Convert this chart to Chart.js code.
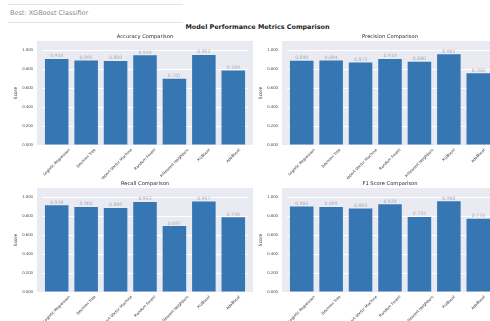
<!DOCTYPE html>
<html>
<head>
<meta charset="utf-8">
<script src="https://cdn.jsdelivr.net/npm/chart.js@4.4.1/dist/chart.umd.min.js"></script>
<style>
  html, body { margin: 0; padding: 0; background: #fff; }
  body { width: 490px; height: 321px; overflow: hidden; position: relative; font-family: "DejaVu Sans", sans-serif; }
  .box { position: absolute; left: 8px; top: 4px; width: 175px; height: 17px; border-top: 1px solid #e4e4e4; border-bottom: 1px solid #e4e4e4; }
  .box span { position: absolute; left: 2px; top: 4px; font-size: 6.5px; color: #8a8a8a; }
  .suptitle { position: absolute; left: 160px; width: 195px; top: 23px; text-align: center; font-size: 6.4px; font-weight: bold; color: #222; }
  canvas { position: absolute; }
</style>
</head>
<body>
<div class="box"><span>Best: XGBoost Classifier</span></div>
<div class="suptitle">Model Performance Metrics Comparison</div>
<canvas id="accChart" width="256" height="150" style="left:0px;top:29px"></canvas>
<canvas id="precChart" width="256" height="150" style="left:245px;top:29px"></canvas>
<canvas id="recChart" width="256" height="150" style="left:0px;top:176px"></canvas>
<canvas id="f1Chart" width="256" height="150" style="left:245px;top:176px"></canvas>
<script>
const models = ["Logistic Regression", "Decision Tree", "Support Vector Machine", "Random Forest", "K-Nearest Neighbors", "XGBoost", "AdaBoost"];
const accuracy = [0.910, 0.895, 0.889, 0.950, 0.701, 0.952, 0.789];
const precision = [0.890, 0.894, 0.873, 0.910, 0.880, 0.961, 0.760];
const recall = [0.918, 0.900, 0.889, 0.953, 0.697, 0.957, 0.790];
const f1 = [0.904, 0.899, 0.883, 0.928, 0.793, 0.960, 0.776];
const yTicks = [0, 0.2, 0.4, 0.6, 0.8, 1.0];

const barColor = "#3676b3";
const axesBg = "#eaeaf2";
const smallFont = { family: "DejaVu Sans", size: 3.8 };

// grey panel behind each subplot, a bit wider than the bar area
const panelBg = {
  id: "panelBg",
  beforeDraw(chart) {
    const { ctx, chartArea: a } = chart;
    ctx.save();
    ctx.fillStyle = axesBg;
    ctx.fillRect(a.left - 5, a.top, a.width + 10, a.height);
    ctx.restore();
  }
};

// subplot title + value above each bar + rotated model names
const decorations = {
  id: "decorations",
  afterDraw(chart) {
    const { ctx, chartArea: a } = chart;
    const xs = chart.scales.x;
    const meta = chart.getDatasetMeta(0);
    const vals = chart.data.datasets[0].data;
    ctx.save();

    ctx.fillStyle = "#262626";
    ctx.font = "5.2px 'DejaVu Sans'";
    ctx.textAlign = "center";
    ctx.textBaseline = "bottom";
    ctx.fillText(chart.options.subTitle, (a.left + a.right) / 2, a.top - 2);

    ctx.fillStyle = "#a9abb6";
    ctx.font = "4.6px 'DejaVu Sans'";
    meta.data.forEach((bar, i) => {
      ctx.fillText(vals[i].toFixed(3), bar.x, bar.y - 0.5);
    });

    ctx.fillStyle = "#333";
    ctx.font = "3.8px 'DejaVu Sans'";
    ctx.textBaseline = "middle";
    const c = Math.SQRT1_2;
    chart.data.labels.forEach((lab, i) => {
      const w = ctx.measureText(lab).width;
      const x = xs.getPixelForValue(i);
      const cy = a.bottom + 3 + (w * c + 3.8 * c) / 2;
      ctx.save();
      ctx.translate(x, cy);
      ctx.rotate(-Math.PI / 4);
      ctx.fillText(lab, 0, 0);
      ctx.restore();
    });
    ctx.restore();
  }
};

function makeChart(id, title, values) {
  const el = document.getElementById(id);
  return new Chart(el, {
    type: "bar",
    data: {
      labels: models,
      datasets: [{
        data: values,
        backgroundColor: barColor,
        barPercentage: 0.8,
        categoryPercentage: 1.0
      }]
    },
    options: {
      subTitle: title,
      responsive: false,
      animation: false,
      events: [],
      layout: { padding: { top: 12, right: 8, left: 0, bottom: 0 } },
      plugins: { legend: { display: false }, tooltip: { enabled: false } },
      scales: {
        x: {
          grid: { display: false, drawTicks: false },
          border: { display: false },
          ticks: { display: false },
          afterFit(s) { s.height = 34; }
        },
        y: {
          min: 0,
          max: 1.1,
          afterBuildTicks(s) { s.ticks = yTicks.map(v => ({ value: v })); },
          ticks: {
            padding: 9,
            color: "#444",
            font: smallFont,
            callback: v => v.toFixed(3)
          },
          grid: { color: "#ffffff", drawTicks: false, lineWidth: 1 },
          border: { display: false },
          title: {
            display: true,
            text: "Score",
            color: "#333",
            font: { family: "DejaVu Sans", size: 4.4 },
            padding: { top: 13, bottom: 0 }
          },
          afterFit(s) { s.width = 42; }
        }
      }
    },
    plugins: [panelBg, decorations]
  });
}

makeChart("accChart", "Accuracy Comparison", accuracy);
makeChart("precChart", "Precision Comparison", precision);
makeChart("recChart", "Recall Comparison", recall);
makeChart("f1Chart", "F1 Score Comparison", f1);
</script>
</body>
</html>
